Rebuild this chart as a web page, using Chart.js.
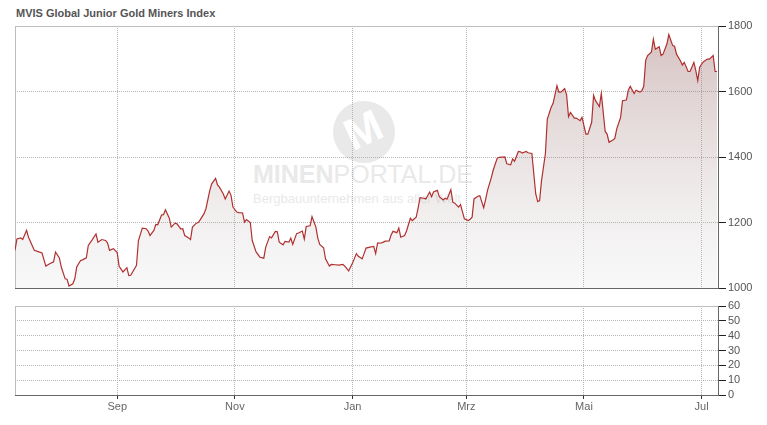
<!DOCTYPE html>
<html><head><meta charset="utf-8">
<script src="https://cdn.jsdelivr.net/npm/chart.js@4"></script>
<style>
html,body{margin:0;padding:0;background:#fff;}
body{width:767px;height:425px;position:relative;overflow:hidden;font-family:"Liberation Sans",Arial,sans-serif;}
#title{position:absolute;left:16px;top:7px;font-size:11px;line-height:13px;font-weight:bold;color:#555;}
canvas{position:absolute;left:0;}
#c1{top:0;z-index:2;}
#c2{top:296px;z-index:2;}
.wm{position:absolute;color:#e9e9e9;white-space:nowrap;z-index:1;}
#wmc{position:absolute;left:333px;top:101px;width:62px;height:62px;border-radius:50%;background:#e9e9e9;z-index:1;overflow:hidden;}
#wmc span{position:absolute;left:12px;top:4px;font-size:44px;font-weight:bold;color:#fff;transform:rotate(-25deg);}
</style></head><body>
<div id="title">MVIS Global Junior Gold Miners Index</div>
<div id="wmc"><span>M</span></div>
<div class="wm" style="left:253px;top:162px;font-size:25px;line-height:25px;"><b>MINEN</b>PORTAL.DE</div>
<div class="wm" style="left:253px;top:192px;font-size:13px;line-height:13px;">Bergbauunternehmen aus aller Welt</div>
<canvas id="c1" width="767" height="300"></canvas>
<canvas id="c2" width="767" height="129"></canvas>
<script>
// ---- data ----
const startDate = '2024-07-10';
const endDate = '2025-07-09';
// calendar days since startDate
const dayOffsets = [0,1,3,4,6,7,10,12,14,16,18,20,21,23,24,26,27,28,30,31,32,34,35,37,38,40,42,43,45,47,48,49,51,53,54,56,58,59,60,63,64,66,68,69,70,72,73,74,76,77,78,80,81,83,84,86,87,88,90,91,92,94,95,96,98,99,101,102,104,105,106,108,109,111,112,113,115,116,118,119,120,122,
123,125,127,129,130,132,133,135,136,137,139,140,142,143,144,146,147,149,150,151,153,154,156,157,158,160,161,163,164,166,168,170,171,173,175,177,178,180,181,182,184,186,187,188,190,191,192,194,195,196,198,199,200,202,203,205,206,208,209,210,212,213,215,216,217,219,220,222,223,224,226,227,228,230,231,233,235,236,237,238,240,241,243,244,245,247,248,250,251,
254,255,257,258,259,261,262,263,265,266,268,269,270,271,272,273,275,276,278,279,281,282,283,285,286,287,288,290,291,293,294,296,297,299,300,301,303,304,306,307,308,310,311,312,314,315,317,318,319,321,322,324,325,326,327,328,330,331,332,334,335,336,338,339,341,342,343,345,346,347,349,350,352,353,354,355,356,357,359,360,362,363,364];
const indexValues = [1115,1150,1153,1148,1176,1155,1115,1111,1107,1067,1074,1080,1110,1092,1064,1028,1027,1006,1013,1028,1064,1084,1086,1092,1130,1147,1165,1140,1148,1145,1137,1115,1120,1108,1066,1049,1062,1038,1039,1069,1145,1183,1181,1174,1160,1176,1194,1193,1223,1224,1239,1213,1186,1198,1196,1180,1181,1160,1153,1148,1186,1198,1200,1208,1227,1242,1298,1318,1335,1315,1308,1287,1272,1296,1283,1247,1232,1230,1229,1201,1209,1200,
1145,1110,1094,1091,1125,1157,1153,1173,1172,1140,1132,1142,1140,1152,1133,1166,1168,1174,1149,1188,1190,1218,1186,1152,1133,1123,1089,1067,1072,1071,1070,1072,1067,1052,1076,1105,1097,1089,1105,1122,1125,1127,1105,1137,1138,1140,1143,1144,1162,1173,1169,1183,1155,1160,1174,1213,1206,1216,1244,1276,1274,1272,1293,1279,1293,1298,1279,1269,1274,1271,1300,1262,1259,1247,1255,1211,1206,1210,1216,1272,1280,1282,1245,1270,1298,1338,1361,1396,1399,
1400,1379,1376,1394,1387,1417,1416,1412,1417,1413,1411,1348,1287,1264,1267,1328,1410,1516,1552,1564,1618,1598,1598,1609,1590,1523,1536,1519,1519,1511,1521,1470,1470,1506,1588,1572,1554,1594,1478,1470,1445,1452,1457,1486,1521,1572,1574,1604,1616,1594,1604,1598,1602,1616,1695,1710,1721,1760,1729,1737,1710,1714,1745,1774,1740,1738,1714,1694,1681,1689,1661,1661,1689,1664,1633,1674,1684,1691,1699,1699,1710,1661,1661];
const monthDates = ['2024-09-01','2024-11-01','2025-01-01','2025-03-01','2025-05-01','2025-07-01'];
const monthLabels = ['Sep','Nov','Jan','Mrz','Mai','Jul'];
const priceTicks = [1000,1200,1400,1600,1800];
const volumeTicks = [0,10,20,30,40,50,60];

// ---- helpers ----
const DAY = 86400000;
const d0 = Date.parse(startDate + 'T00:00:00Z');
const dayOf = s => Math.round((Date.parse(s + 'T00:00:00Z') - d0) / DAY);
const xMax = dayOf(endDate) + 0.5;
const monthTicks = monthDates.map(dayOf);
const points = dayOffsets.map((d, i) => ({x: d, y: indexValues[i]}));

const FONT = {family: '"Liberation Sans", Arial, sans-serif', size: 11};
const GRID = '#b4b4b4';
const AXIS = '#666';

const framePlugin = {
  id: 'frame',
  beforeDatasetsDraw(chart) {
    const a = chart.chartArea, c = chart.ctx;
    c.save();
    c.strokeStyle = '#bdbdbd';
    c.lineWidth = 1;
    c.beginPath();
    c.moveTo(Math.round(a.left) + 0.5, a.bottom);
    c.lineTo(Math.round(a.left) + 0.5, Math.round(a.top) + 0.5);
    c.lineTo(a.right, Math.round(a.top) + 0.5);
    c.stroke();
    c.restore();
  }
};

function xScale(showLabels, h) {
  return {
    type: 'linear', min: 0, max: xMax,
    afterBuildTicks: s => { s.ticks = monthTicks.map(v => ({value: v})); },
    afterFit: s => { s.height = h; },
    ticks: {display: showLabels, autoSkip: false, maxRotation: 0, color: '#666', font: FONT, padding: 1,
            callback: (v, i) => monthLabels[i]},
    grid: {color: GRID, lineWidth: 1, drawTicks: showLabels, tickLength: 4, tickColor: '#333', tickWidth: 1},
    border: {display: true, color: AXIS, width: 1, dash: [1, 1]}
  };
}
function yScale(min, max, ticks) {
  return {
    position: 'right', min: min, max: max,
    afterBuildTicks: s => { s.ticks = ticks.map(v => ({value: v})); },
    afterFit: s => { s.width = 49; },
    ticks: {color: '#555', font: FONT, padding: 2, autoSkip: false, callback: v => String(v)},
    grid: {color: GRID, lineWidth: 1, drawTicks: true, tickLength: 8, tickColor: '#222', tickWidth: 1},
    border: {display: true, color: AXIS, width: 1, dash: [1, 1]}
  };
}

Chart.defaults.font.family = FONT.family;

new Chart(document.getElementById('c1'), {
  type: 'line',
  data: {datasets: [{
    data: points,
    borderColor: '#b0302f',
    borderWidth: 1.2,
    pointRadius: 0,
    tension: 0,
    fill: 'start',
    backgroundColor: (ctx) => {
      const a = ctx.chart.chartArea;
      if (!a) return 'transparent';
      const g = ctx.chart.ctx.createLinearGradient(0, a.top, 0, a.bottom);
      g.addColorStop(0, 'rgba(150,95,95,0.40)');
      g.addColorStop(1, 'rgba(200,200,200,0.12)');
      return g;
    }
  }]},
  options: {
    responsive: false, animation: false, events: [],
    layout: {padding: {left: 15, top: 26, right: 0, bottom: 0}},
    plugins: {legend: {display: false}, tooltip: {enabled: false}},
    scales: {x: xScale(false, 12), y: yScale(1000, 1800, priceTicks)}
  },
  plugins: [framePlugin]
});

new Chart(document.getElementById('c2'), {
  type: 'line',
  data: {datasets: [{data: [], pointRadius: 0}]},
  options: {
    responsive: false, animation: false, events: [],
    layout: {padding: {left: 15, top: 10, right: 0, bottom: 0}},
    plugins: {legend: {display: false}, tooltip: {enabled: false}},
    scales: {x: xScale(true, 30), y: yScale(0, 60, volumeTicks)}
  },
  plugins: [framePlugin]
});
</script>
</body></html>
